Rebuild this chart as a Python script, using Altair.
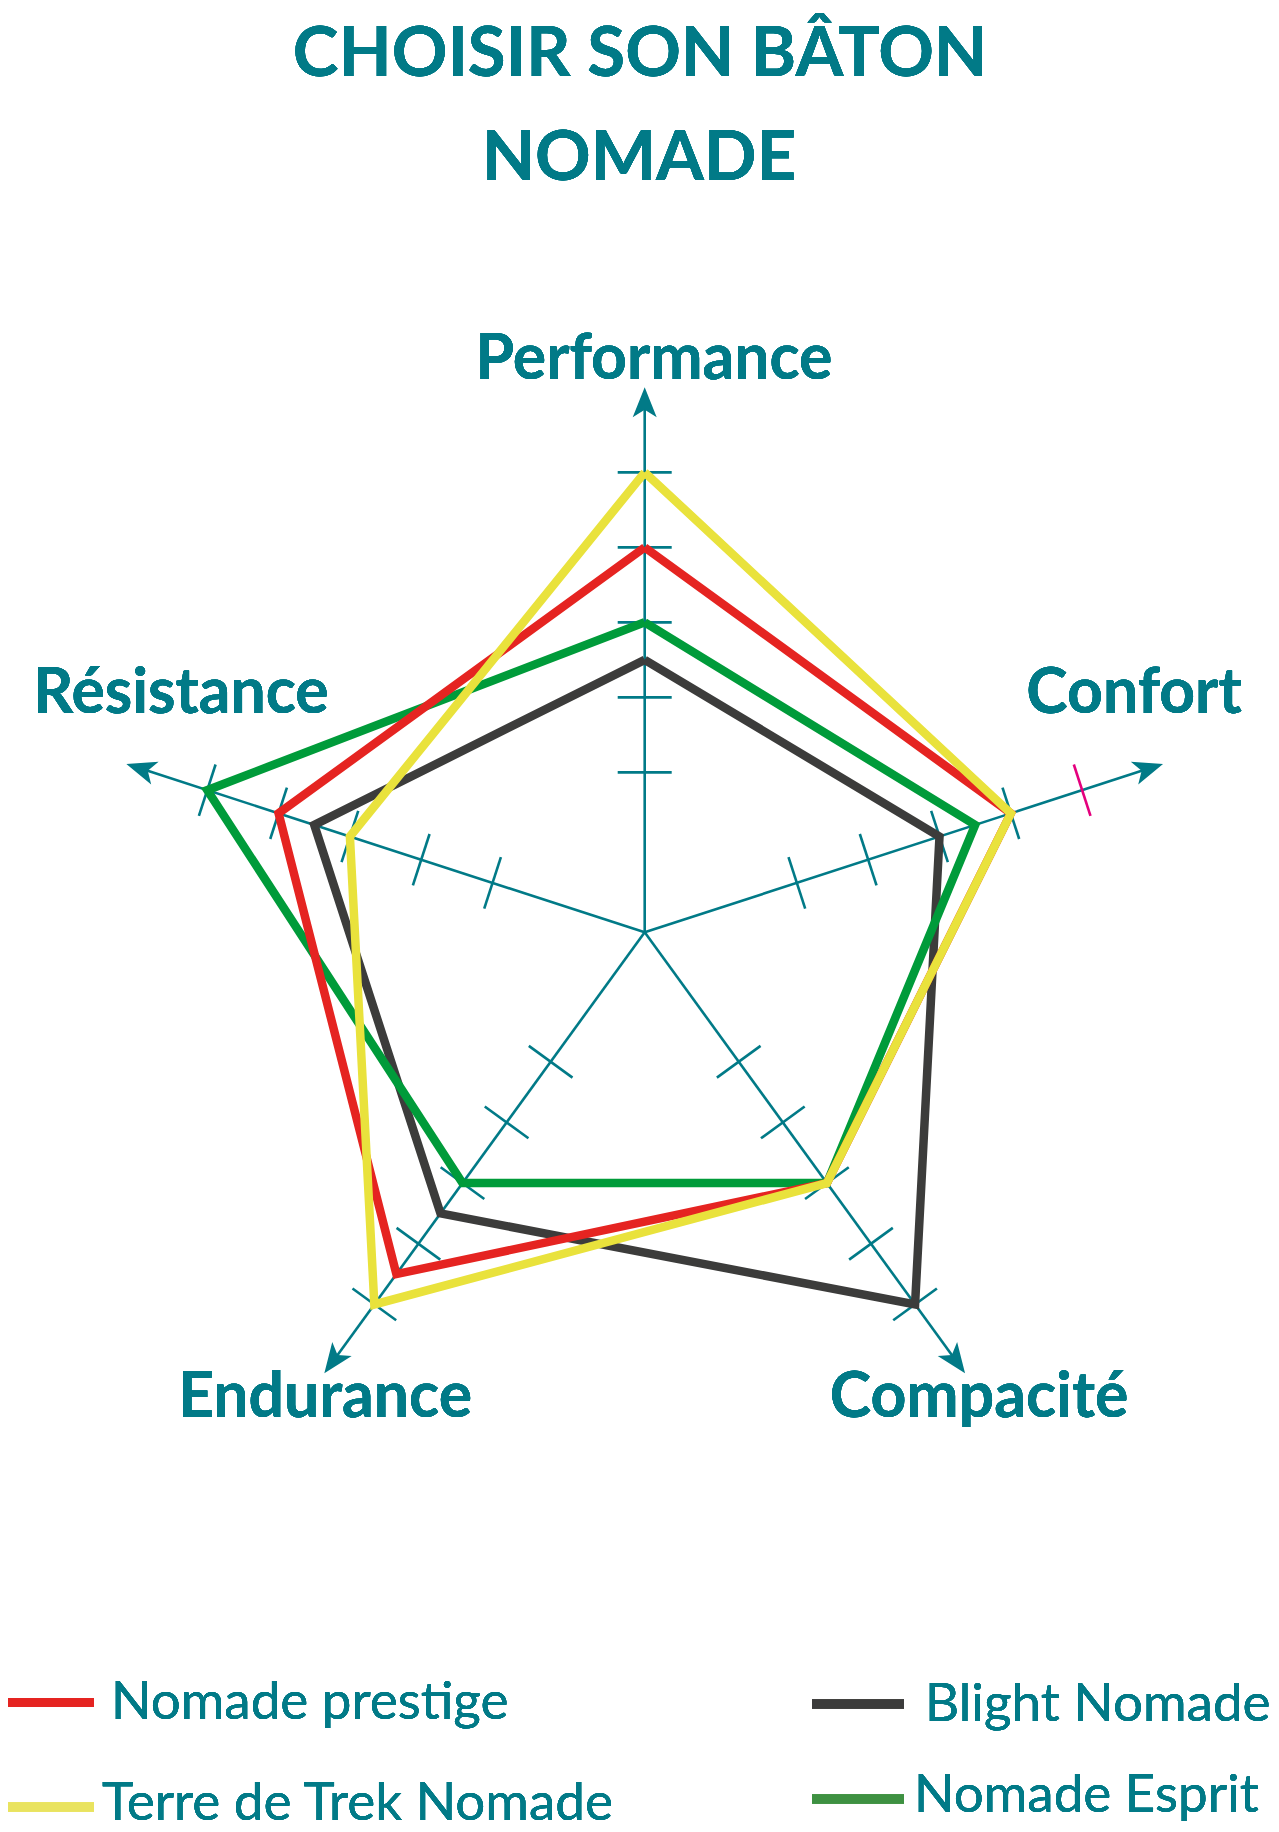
import altair as alt
import pandas as pd

# ---------------- data ----------------
TITLE_LINES = ["CHOISIR SON BÂTON", "NOMADE"]
CATEGORIES = ["Performance", "Confort", "Compacité", "Endurance", "Résistance"]
SERIES = ["Blight Nomade", "Nomade Esprit", "Nomade prestige", "Terre de Trek Nomade"]
NOMADE_PRESTIGE = [4, 4, 3, 4.5, 4]
BLIGHT_NOMADE = [2.5, 3, 5, 3.5, 3.5]
TERRE_DE_TREK_NOMADE = [5, 4, 3, 5, 3]
NOMADE_ESPRIT = [3, 3.5, 3, 3, 5]
TICK_VALUES = [1, 2, 3, 4, 5]

SERIES_VALUES = {
    "Nomade prestige": NOMADE_PRESTIGE,
    "Blight Nomade": BLIGHT_NOMADE,
    "Terre de Trek Nomade": TERRE_DE_TREK_NOMADE,
    "Nomade Esprit": NOMADE_ESPRIT,
}

# ---------------- style / layout ----------------
TEAL = "#017A87"
PINK = "#E4007D"
LINE_COLORS = {
    "Nomade prestige": "#E52421",
    "Blight Nomade": "#3C3C3B",
    "Terre de Trek Nomade": "#E9E23C",
    "Nomade Esprit": "#009B3A",
}
LEGEND_COLORS = {
    "Nomade prestige": "#E52421",
    "Blight Nomade": "#3C3C3B",
    "Terre de Trek Nomade": "#E9E35F",
    "Nomade Esprit": "#3E9142",
}
FONT = "Lato"

W, H = 1263, 1816
CX, CY = 636.7, 924.3        # centre of the web (plot pixels)
UNIT = 75.0                  # pixels per score point
ORIGIN = -1.133              # score located at the centre
X_DOMAIN = [-CX / UNIT, (W - CX) / UNIT]
Y_DOMAIN = [-(H - CY) / UNIT, CY / UNIT]
TICK_HALF = 0.36             # half tick length (units)
AXIS_END = 7.0               # axis line length (units)
ARROW_R = 7.067              # arrowhead centre (units)
ARROW_PATH = "M0,-1L0.8,1L0,0.5L-0.8,1Z"

xs = alt.Scale(domain=X_DOMAIN, nice=False, zero=False)
ys = alt.Scale(domain=Y_DOMAIN, nice=False, zero=False)

def X(f):
    return alt.X(f, type="quantitative", scale=xs, axis=None)

def Y(f):
    return alt.Y(f, type="quantitative", scale=ys, axis=None)

# ---------------- tables ----------------
axes_df = pd.DataFrame({"categorie": CATEGORIES,
                        "angle": [i * 72 for i in range(len(CATEGORIES))]})

tick_rows = []
for i, c in enumerate(CATEGORIES):
    for t in TICK_VALUES:
        tick_rows.append({"categorie": c, "angle": i * 72, "tick": t})
ticks_df = pd.DataFrame(tick_rows)

line_rows = []
for s in SERIES:
    vals = SERIES_VALUES[s]
    for j in range(len(CATEGORIES) + 1):
        k = j % len(CATEGORIES)
        line_rows.append({"series": s, "categorie": CATEGORIES[k],
                          "score": vals[k], "angle": k * 72, "ordre": j})
lines_df = pd.DataFrame(line_rows)

RAD = "datum.angle * PI / 180"

# axis lines
axis_lines = alt.Chart(axes_df).transform_calculate(
    x0="0", y0="0",
    x1=f"{AXIS_END} * sin({RAD})", y1=f"{AXIS_END} * cos({RAD})",
).mark_rule(color=TEAL, strokeWidth=2.6).encode(
    x=X("x0"), y=Y("y0"), x2="x1:Q", y2="y1:Q")

# ticks
tick_marks = alt.Chart(ticks_df).transform_calculate(
    r=f"datum.tick - ({ORIGIN})",
).transform_calculate(
    tx1=f"datum.r * sin({RAD}) + {TICK_HALF} * cos({RAD})",
    ty1=f"datum.r * cos({RAD}) - {TICK_HALF} * sin({RAD})",
    tx2=f"datum.r * sin({RAD}) - {TICK_HALF} * cos({RAD})",
    ty2=f"datum.r * cos({RAD}) + {TICK_HALF} * sin({RAD})",
).mark_rule(strokeWidth=2.6).encode(
    x=X("tx1"), y=Y("ty1"), x2="tx2:Q", y2="ty2:Q",
    color=alt.condition("datum.categorie === 'Confort' && datum.tick === 5",
                        alt.value(PINK), alt.value(TEAL)))

# arrowheads
arrows = alt.Chart(axes_df).transform_calculate(
    ax=f"{ARROW_R} * sin({RAD})", ay=f"{ARROW_R} * cos({RAD})",
).mark_point(shape=ARROW_PATH, filled=True, size=900, color=TEAL,
             opacity=1, strokeWidth=0).encode(
    x=X("ax"), y=Y("ay"), angle=alt.Angle("angle:Q", scale=None))

# series polygons (one layer each to control drawing order)
series_layers = []
for s in SERIES:
    series_layers.append(
        alt.Chart(lines_df).transform_filter(alt.datum.series == s).transform_calculate(
            r=f"datum.score - ({ORIGIN})",
        ).transform_calculate(
            px=f"datum.r * sin({RAD})", py=f"datum.r * cos({RAD})",
        ).mark_line(strokeWidth=8.5, strokeJoin="miter", strokeMiterLimit=10,
                    color=LINE_COLORS[s]).encode(
            x=X("px"), y=Y("py"), order=alt.Order("ordre:Q"))
    )

# axis labels
LABEL_POS = {
    "Performance": (646, 371),
    "Confort": (1126, 705),
    "Compacité": (971, 1409),
    "Endurance": (317, 1409),
    "Résistance": (173, 705),
}
label_layers = [
    alt.Chart(axes_df).mark_text(text=c, font=FONT, fontSize=62.5, fontWeight="bold",
                                 color=TEAL, align="center", baseline="alphabetic").encode(
        x=alt.value(LABEL_POS[c][0]), y=alt.value(LABEL_POS[c][1]))
    for c in CATEGORIES
]

# title
TITLE_POS = [(632, 68), (631, 172)]
title_layers = [
    alt.Chart(axes_df).mark_text(text=t, font=FONT, fontSize=69, fontWeight="bold",
                                 color=TEAL, align="center", baseline="alphabetic").encode(
        x=alt.value(p[0]), y=alt.value(p[1]))
    for t, p in zip(TITLE_LINES, TITLE_POS)
]

# legend
LEGEND_LAYOUT = {
    "Nomade prestige": (0, 86, 1694.5, 103, 1711),
    "Blight Nomade": (804, 896, 1696, 917, 1713),
    "Terre de Trek Nomade": (0, 86, 1799, 94, 1812),
    "Nomade Esprit": (804, 896, 1791, 906, 1804),
}
legend_layers = []
for s in ["Nomade prestige", "Blight Nomade", "Terre de Trek Nomade", "Nomade Esprit"]:
    x1, x2, ly, tx, ty = LEGEND_LAYOUT[s]
    legend_layers.append(
        alt.Chart(axes_df).mark_rule(strokeWidth=9, color=LEGEND_COLORS[s]).encode(
            x=alt.value(x1), x2=alt.value(x2), y=alt.value(ly)))
    legend_layers.append(
        alt.Chart(axes_df).mark_text(text=s, font=FONT, fontSize=53, color=TEAL,
                                     align="left", baseline="alphabetic").encode(
            x=alt.value(tx), y=alt.value(ty)))

chart = alt.layer(
    axis_lines, tick_marks, arrows, *series_layers, *label_layers,
    *title_layers, *legend_layers
).properties(
    width=W, height=H, padding=0,
    autosize=alt.AutoSizeParams(type="none"),
).configure_view(stroke=None)

chart.save("out.html", embed_options={"renderer": "svg", "actions": False})
